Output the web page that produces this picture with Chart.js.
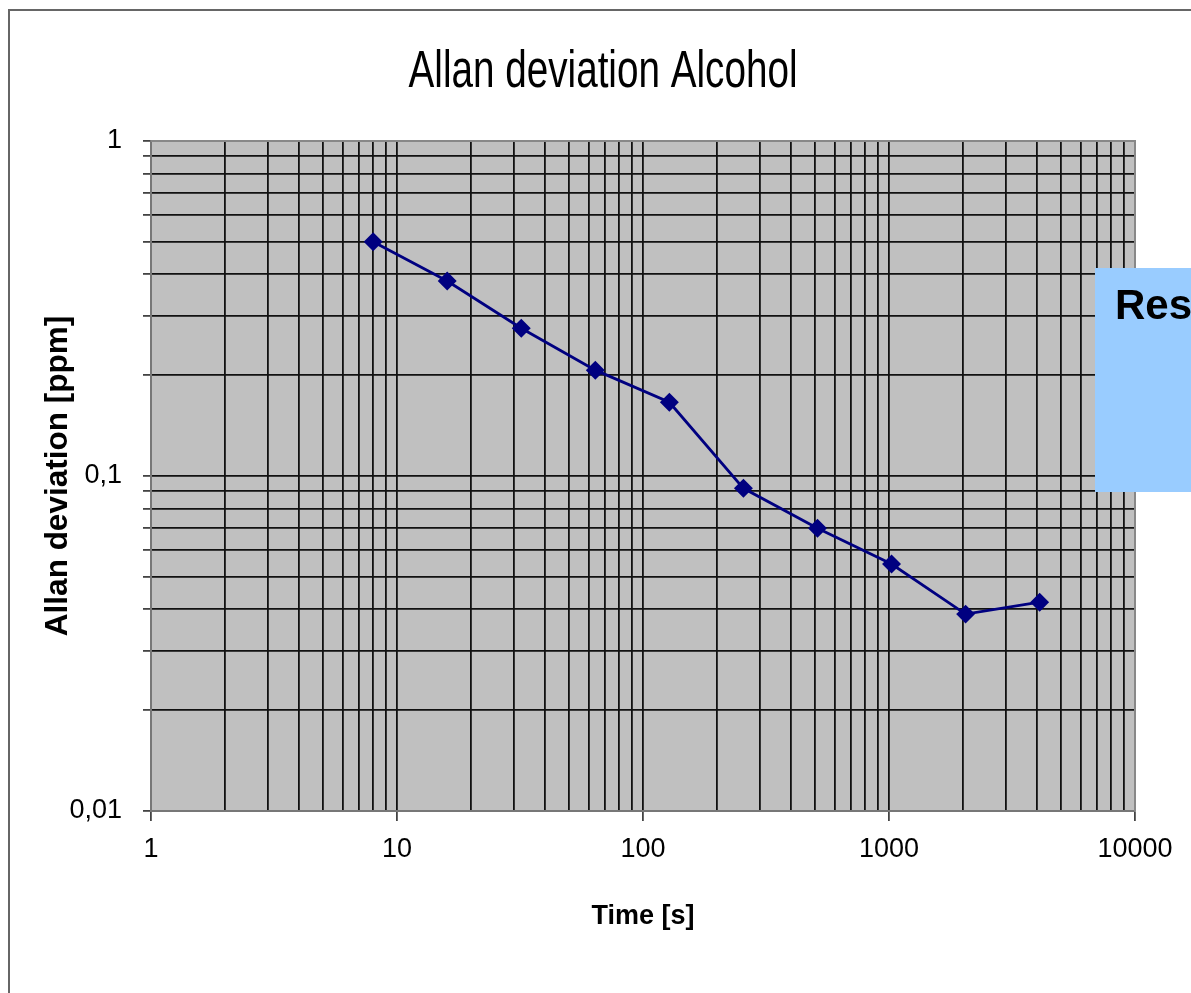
<!DOCTYPE html>
<html>
<head>
<meta charset="utf-8">
<script src="https://cdn.jsdelivr.net/npm/chart.js@4"></script>
<style>
  html, body { margin: 0; padding: 0; background: #fff; }
  canvas { display: block; }
</style>
</head>
<body>
<canvas id="chart" width="1191" height="993"></canvas>
<script>
// averaging time and Allan deviation
const timeValues = [8, 16, 32, 64, 128, 256, 512, 1024, 2048, 4096];
const allanValues = [0.50, 0.382, 0.276, 0.207, 0.166, 0.0919, 0.0698, 0.0546, 0.0387, 0.0420];

// labels on the decades only
const xTickLabels = ['1', '10', '100', '1000', '10000'];
const yTickLabels = ['0,01', '0,1', '1'];

const chartTitle = 'Allan deviation Alcohol';

function logGrid(minExp, maxExp) {
    var vals = [];
    for (var e = minExp; e < maxExp; e++) {
        for (var m = 1; m < 10; m++) {
            vals.push(Number((m * Math.pow(10, e)).toPrecision(6)));
        }
    }
    vals.push(Math.pow(10, maxExp));
    return vals;
}

function decade(value) {
    var e = Math.log10(value);
    if (Math.abs(e - Math.round(e)) < 1e-9) return Math.round(e);
    return null;
}

const sheetFrame = {
    id: 'sheetFrame',
    beforeDraw(chart) {
        const ctx = chart.ctx;
        const a = chart.chartArea;
        ctx.save();
        ctx.fillStyle = '#ffffff';
        ctx.fillRect(0, 0, chart.width, chart.height);
        ctx.strokeStyle = '#666666';
        ctx.lineWidth = 2;
        ctx.beginPath();
        ctx.moveTo(9, chart.height + 5);
        ctx.lineTo(9, 10);
        ctx.lineTo(chart.width + 5, 10);
        ctx.stroke();
        ctx.fillStyle = '#c0c0c0';
        ctx.fillRect(a.left, a.top, a.right - a.left, a.bottom - a.top);

        // title, drawn a little taller than wide like the original
        ctx.font = '40px "Liberation Sans", Arial, sans-serif';
        ctx.fillStyle = '#000000';
        ctx.textAlign = 'center';
        ctx.textBaseline = 'alphabetic';
        var w = ctx.measureText(chartTitle).width;
        ctx.translate(603, 87);
        ctx.scale(389 / w, 1.3);
        ctx.fillText(chartTitle, 0, 0);
        ctx.restore();
    },
    afterDraw(chart) {
        const ctx = chart.ctx;
        const a = chart.chartArea;
        ctx.save();
        ctx.strokeStyle = '#888888';
        ctx.lineWidth = 2;
        ctx.beginPath();
        ctx.moveTo(a.left, a.top);
        ctx.lineTo(a.right, a.top);
        ctx.lineTo(a.right, a.bottom);
        ctx.stroke();
        // text box partly outside the picture
        ctx.fillStyle = '#99ccff';
        ctx.fillRect(1095, 268, 120, 224);
        ctx.fillStyle = '#000000';
        ctx.font = 'bold 42px "Liberation Sans", Arial, sans-serif';
        ctx.textBaseline = 'alphabetic';
        ctx.fillText('Res', 1115, 319);
        ctx.restore();
    }
};

var ctx = document.getElementById('chart').getContext('2d');

new Chart(ctx, {
    type: 'line',
    data: {
        datasets: [{
            data: timeValues.map((t, i) => ({ x: t, y: allanValues[i] })),
            borderColor: '#000080',
            backgroundColor: '#000080',
            borderWidth: 2.8,
            pointStyle: 'rectRot',
            pointRadius: 7.5,
            pointHoverRadius: 7.5,
            tension: 0
        }]
    },
    options: {
        responsive: false,
        animation: false,
        events: [],
        layout: { padding: { left: 0, right: 56, top: 141, bottom: 0 } },
        plugins: {
            legend: { display: false },
            tooltip: { enabled: false },
            title: { display: false }
        },
        scales: {
            x: {
                type: 'logarithmic',
                min: 1,
                max: 10000,
                afterBuildTicks: axis => {
                    axis.ticks = logGrid(0, 4).map(v => ({ value: v }));
                },
                afterFit: axis => { axis.height = 182; },
                ticks: {
                    autoSkip: false,
                    maxRotation: 0,
                    color: '#000',
                    padding: 12,
                    font: { family: '"Liberation Sans", Arial, sans-serif', size: 27 },
                    callback: value => {
                        var e = decade(value);
                        return e === null ? '' : xTickLabels[e];
                    }
                },
                grid: {
                    color: '#111111',
                    lineWidth: 1.8,
                    tickLength: 10,
                    tickColor: c => (c.tick && decade(c.tick.value) !== null) ? '#444444' : 'rgba(0,0,0,0)'
                },
                border: { display: true, color: '#777777', width: 2 },
                title: {
                    display: true,
                    text: 'Time [s]',
                    color: '#000',
                    font: { family: '"Liberation Sans", Arial, sans-serif', size: 27, weight: 'bold' },
                    padding: { top: 0, bottom: 60 }
                }
            },
            y: {
                type: 'logarithmic',
                min: 0.01,
                max: 1,
                afterBuildTicks: axis => {
                    axis.ticks = logGrid(-2, 0).map(v => ({ value: v }));
                },
                afterFit: axis => { axis.width = 151; },
                ticks: {
                    autoSkip: false,
                    color: '#000',
                    padding: 21,
                    font: { family: '"Liberation Sans", Arial, sans-serif', size: 27 },
                    callback: value => {
                        var e = decade(value);
                        return e === null ? '' : yTickLabels[e + 2];
                    }
                },
                grid: {
                    color: '#111111',
                    lineWidth: 1.8,
                    tickLength: 8,
                    tickColor: '#444444'
                },
                border: { display: true, color: '#777777', width: 2 },
                title: {
                    display: true,
                    text: 'Allan deviation [ppm]',
                    color: '#000',
                    font: { family: '"Liberation Sans", Arial, sans-serif', size: 31.5, weight: 'bold' },
                    padding: { top: 39, bottom: 0 }
                }
            }
        }
    },
    plugins: [sheetFrame]
});
</script>
</body>
</html>
